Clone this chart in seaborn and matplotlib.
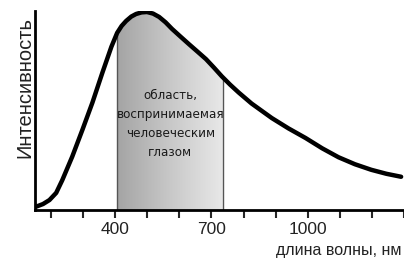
import numpy as np
import seaborn as sns
import matplotlib.pyplot as plt
from matplotlib.colors import LinearSegmentedColormap

# spectrum (wavelength nm, relative intensity)
wavelength = [154, 175, 195, 216, 235, 266, 298, 329, 360, 388, 406, 420, 434, 450, 465, 482, 499,
              518, 537, 557, 577, 603, 630, 657, 683, 708, 732, 758, 785, 825, 888, 940, 993,
              1045, 1096, 1147, 1198, 1245, 1291]
intensity = [0.017, 0.03, 0.05, 0.086, 0.15, 0.268, 0.404, 0.54, 0.69, 0.82, 0.89, 0.925, 0.95,
             0.972, 0.985, 0.993, 0.995, 0.987, 0.97, 0.943, 0.91, 0.872, 0.833, 0.795, 0.758,
             0.715, 0.672, 0.63, 0.59, 0.535, 0.462, 0.41, 0.362, 0.31, 0.265, 0.23, 0.202,
             0.182, 0.167]

visible = (405, 735)
tick_pos = list(range(200, 1301, 100))
tick_labels = ['400' if t == 400 else '700' if t == 700 else '1000' if t == 1000 else '' for t in tick_pos]

region_text = "область,\nвоспринимаемая\nчеловеческим\nглазом"
xlabel = "длина волны, нм"
ylabel = "Интенсивность"

sns.set_style("white")
plt.rcParams['font.family'] = ['Liberation Sans', 'DejaVu Sans']

fig = plt.figure(figsize=(4.04, 2.6), dpi=100)
ax = fig.add_axes([35 / 404, 1 - 210 / 260, 369 / 404, 199 / 260])

# gradient fill under the curve inside the visible band
x = np.array(wavelength, dtype=float)
y = np.array(intensity)
lo, hi = visible
inside = (x > lo) & (x < hi)
px = np.concatenate([[lo], x[inside], [hi]])
py = np.concatenate([[np.interp(lo, x, y)], y[inside], [np.interp(hi, x, y)]])
poly, = ax.fill(np.concatenate([px, [hi, lo]]), np.concatenate([py, [0, 0]]),
                facecolor='none', edgecolor='none')
greys = LinearSegmentedColormap.from_list('band', ['#a4a4a4', '#c8c8c8', '#e8e8e8'])
grad = np.linspace(0, 1, 256).reshape(1, -1)
im = ax.imshow(grad, extent=[lo, hi, 0, 1.05], aspect='auto', cmap=greys,
               origin='lower', zorder=1)
im.set_clip_path(poly)
ax.vlines([lo, hi], 0, [py[0], py[-1]], color='#555555', lw=1, zorder=2)

sns.lineplot(x=wavelength, y=intensity, ax=ax, color='black', lw=3.2, zorder=3)

ax.text(572, 0.43, region_text, ha='center', va='center', fontsize=9.5,
        family='DejaVu Sans', fontstretch='condensed', color='#1a1a1a', linespacing=1.6)

ax.set_xlim(150, 1290)
ax.set_ylim(0, 1.0)
ax.set_xticks(tick_pos)
ax.set_xticklabels(tick_labels, fontsize=12.5, color='#222222')
ax.set_yticks([])
ax.tick_params(axis='x', direction='out', length=6, width=1.5, pad=3, bottom=True)
for s in ['top', 'right']:
    ax.spines[s].set_visible(False)
for s in ['left', 'bottom']:
    ax.spines[s].set_linewidth(2)
    ax.spines[s].set_color('black')
ax.set_xlabel('')
ax.set_ylabel('')

fig.text(402 / 404, 1 - 250 / 260, xlabel, ha='right', va='center', fontsize=11.5, color='#222222')
fig.text(25 / 404, 1 - 88 / 260, ylabel, ha='center', va='center', rotation=90,
         fontsize=14.5, color='#222222')

fig.savefig('out.png', dpi=100)
